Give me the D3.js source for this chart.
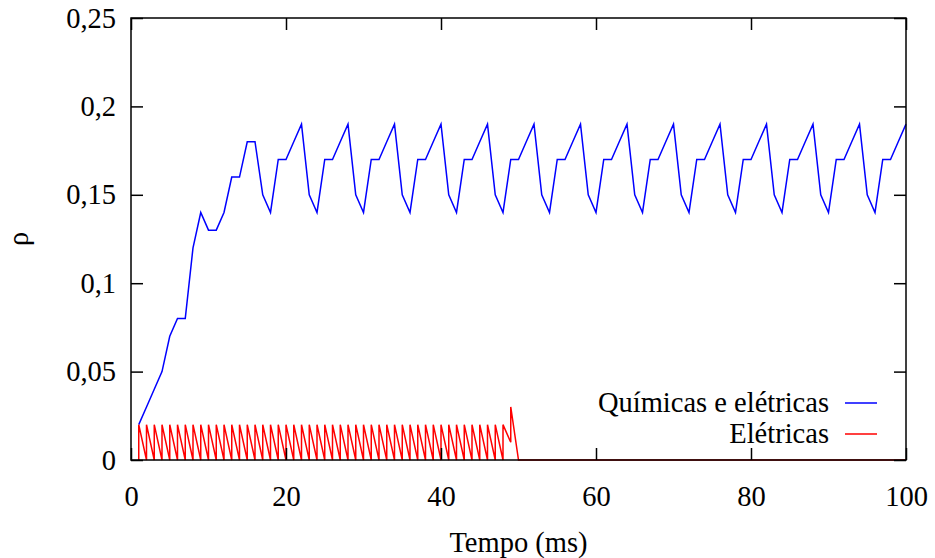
<html>
<head>
<meta charset="utf-8">
<script src="https://d3js.org/d3.v7.min.js"></script>
<style>
  body { margin: 0; background: #fff; }
  text { font-family: "Liberation Serif", "DejaVu Serif", serif; fill: #000; }
</style>
</head>
<body>
<div id="chartContainer"></div>
<script type="text/javascript">

// tempo (ms) das amostras
var tempo = [1,2,3,4,5,6,7,8,9,10,11,12,13,14,15,16,17,18,19,20,
  21,22,23,24,25,26,27,28,29,30,31,32,33,34,35,36,37,38,39,40,
  41,42,43,44,45,46,47,48,49,50,51,52,53,54,55,56,57,58,59,60,
  61,62,63,64,65,66,67,68,69,70,71,72,73,74,75,76,77,78,79,80,
  81,82,83,84,85,86,87,88,89,90,91,92,93,94,95,96,97,98,99,100];

// sinapses químicas e elétricas
var quimicas = [0.02,0.03,0.04,0.05,0.07,0.08,0.08,0.12,0.14,0.13,
  0.13,0.14,0.16,0.16,0.18,0.18,0.15,0.14,0.17,0.17,0.18,0.19,
  0.15,0.14,0.17,0.17,0.18,0.19, 0.15,0.14,0.17,0.17,0.18,0.19,
  0.15,0.14,0.17,0.17,0.18,0.19, 0.15,0.14,0.17,0.17,0.18,0.19,
  0.15,0.14,0.17,0.17,0.18,0.19, 0.15,0.14,0.17,0.17,0.18,0.19,
  0.15,0.14,0.17,0.17,0.18,0.19, 0.15,0.14,0.17,0.17,0.18,0.19,
  0.15,0.14,0.17,0.17,0.18,0.19, 0.15,0.14,0.17,0.17,0.18,0.19,
  0.15,0.14,0.17,0.17,0.18,0.19, 0.15,0.14,0.17,0.17,0.18,0.19,
  0.15,0.14,0.17,0.17,0.18,0.19];

// só elétricas: valor antes e depois de cada disparo
var eletricasAntes = [0,0,0,0,0,0,0,0,0,0, 0,0,0,0,0,0,0,0,0,0,
  0,0,0,0,0,0,0,0,0,0, 0,0,0,0,0,0,0,0,0,0, 0,0,0,0,0,0,0,0,0.01,0,
  0,0,0,0,0,0,0,0,0,0, 0,0,0,0,0,0,0,0,0,0, 0,0,0,0,0,0,0,0,0,0,
  0,0,0,0,0,0,0,0,0,0, 0,0,0,0,0,0,0,0,0,0];
var eletricasDepois = [0.02,0.02,0.02,0.02,0.02,0.02,0.02,0.02,0.02,0.02,
  0.02,0.02,0.02,0.02,0.02,0.02,0.02,0.02,0.02,0.02,
  0.02,0.02,0.02,0.02,0.02,0.02,0.02,0.02,0.02,0.02,
  0.02,0.02,0.02,0.02,0.02,0.02,0.02,0.02,0.02,0.02,
  0.02,0.02,0.02,0.02,0.02,0.02,0.02,0.02,0.03,0,
  0,0,0,0,0,0,0,0,0,0, 0,0,0,0,0,0,0,0,0,0, 0,0,0,0,0,0,0,0,0,0,
  0,0,0,0,0,0,0,0,0,0, 0,0,0,0,0,0,0,0,0,0];

var xTicks = [0, 20, 40, 60, 80, 100];
var yTicks = [0, 0.05, 0.1, 0.15, 0.2, 0.25];
var legendLabels = ["Químicas e elétricas", "Elétricas"];
var legendColors = ["#0000ff", "#ff0000"];

var width = 935, height = 558;
// plot box (note: "top" is reserved on window, so use plotTop)
var plotLeft = 131, plotRight = 906, plotTop = 18, plotBottom = 460;
var fontSize = 28.5, tickLen = 12;

var svg = d3.select("#chartContainer").append("svg")
  .attr("width", width).attr("height", height);

var x = d3.scaleLinear().domain([0, 100]).range([plotLeft, plotRight]);
var y = d3.scaleLinear().domain([0, 0.25]).range([plotBottom, plotTop]);

// comma decimals, gnuplot style
var fmt = function (d) { return String(d).replace(".", ","); };

// series
var blueData = tempo.map(function (t, i) { return [t, quimicas[i]]; });
var redData = [];
tempo.forEach(function (t, i) {
  redData.push([t, eletricasAntes[i]]);
  redData.push([t, eletricasDepois[i]]);
});

var line = d3.line()
  .x(function (d) { return x(d[0]); })
  .y(function (d) { return y(d[1]); });

svg.append("path").datum(blueData)
  .attr("d", line).attr("fill", "none")
  .attr("stroke", legendColors[0]).attr("stroke-width", 1.5);

svg.append("path").datum(redData)
  .attr("d", line).attr("fill", "none")
  .attr("stroke", legendColors[1]).attr("stroke-width", 1.5);

// axes with inward ticks, mirrored
var axB = d3.axisBottom(x).tickValues(xTicks).tickSize(-tickLen).tickPadding(tickLen + 14).tickFormat(fmt);
var axT = d3.axisTop(x).tickValues(xTicks).tickSize(-tickLen).tickFormat("");
var axL = d3.axisLeft(y).tickValues(yTicks).tickSize(-tickLen).tickPadding(tickLen + 3).tickFormat(fmt);
var axR = d3.axisRight(y).tickValues(yTicks).tickSize(-tickLen).tickFormat("");

[[axB, "translate(0," + plotBottom + ")"], [axT, "translate(0," + plotTop + ")"],
 [axL, "translate(" + plotLeft + ",0)"], [axR, "translate(" + plotRight + ",0)"]].forEach(function (a) {
  var g = svg.append("g").attr("transform", a[1]).call(a[0]);
  g.select(".domain").remove();
  g.selectAll(".tick line").attr("stroke", "#000").attr("stroke-width", 1.5);
  g.selectAll("text").style("font-family", "Liberation Serif").style("font-size", fontSize + "px").attr("fill", "#000");
});

// border on top
svg.append("rect")
  .attr("x", plotLeft).attr("y", plotTop)
  .attr("width", plotRight - plotLeft).attr("height", plotBottom - plotTop)
  .attr("fill", "none").attr("stroke", "#000").attr("stroke-width", 1.5);

// axis titles
svg.append("text")
  .attr("x", (plotLeft + plotRight) / 2).attr("y", 552)
  .attr("text-anchor", "middle")
  .style("font-size", fontSize + "px")
  .text("Tempo (ms)");

svg.append("text")
  .attr("transform", "translate(28," + (plotTop + plotBottom) / 2 + ") rotate(-90)")
  .attr("text-anchor", "middle")
  .style("font-size", fontSize + "px")
  .text("ρ");

// legend
var legend = svg.selectAll(".legend").data(legendLabels).enter().append("g")
  .attr("transform", function (d, i) { return "translate(0," + (403 + i * 31) + ")"; });

legend.append("text")
  .attr("x", 829).attr("y", 0).attr("dy", "0.33em")
  .attr("text-anchor", "end")
  .style("font-size", fontSize + "px")
  .text(function (d) { return d; });

legend.append("line")
  .attr("x1", 845).attr("x2", 877).attr("y1", 0).attr("y2", 0)
  .attr("stroke", function (d, i) { return legendColors[i]; })
  .attr("stroke-width", 1.5);

</script>
</body>
</html>
